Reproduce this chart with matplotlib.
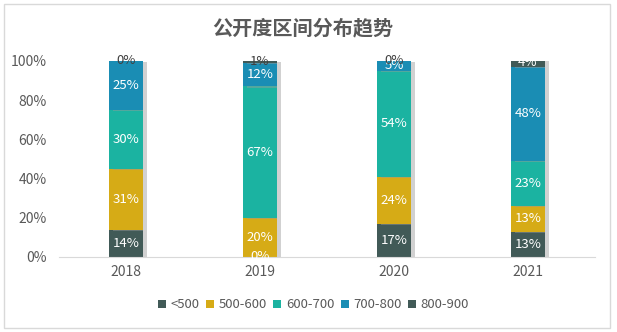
import matplotlib.pyplot as plt
import matplotlib.patheffects as pe
from matplotlib.patches import Rectangle
import numpy as np

plt.rcParams['font.family'] = ['Noto Sans CJK SC', 'DejaVu Sans']

years = ["2018", "2019", "2020", "2021"]
ranges = ["<500", "500-600", "600-700", "700-800", "800-900"]
share = {
    "<500":    [14, 0, 17, 13],
    "500-600": [31, 20, 24, 13],
    "600-700": [30, 67, 54, 23],
    "700-800": [25, 12, 5, 48],
    "800-900": [0, 1, 0, 4],
}
colors = ["#415A57", "#D6AB16", "#1BB3A1", "#1A8DB4", "#415A57"]

fig = plt.figure(figsize=(6.17, 3.32), dpi=100)
ax = fig.add_axes([59 / 617, 75 / 332, 536 / 617, 196 / 332])

# light frame around the whole chart
fig.patches.append(Rectangle((4 / 617, 4 / 332), 606 / 617, 324 / 332,
                             transform=fig.transFigure, fill=False,
                             edgecolor="#D9D9D9", linewidth=1))

x = np.arange(len(years))
width = 0.25
bottom = np.zeros(len(years))
shadow = [pe.SimplePatchShadow(offset=(3, -1), shadow_rgbFace="#999999", alpha=0.45), pe.Normal()]

for name, col in zip(ranges, colors):
    vals = np.array(share[name], dtype=float)
    ax.bar(x, vals, width, bottom=bottom, color=col, label=name,
           path_effects=shadow, zorder=2)
    for i, v in enumerate(vals):
        y = bottom[i] + v / 2
        top_small = v < 2 and bottom[i] + v >= 99
        ax.text(x[i], y, f"{int(v)}%", ha="center", va="center", fontsize=9.5,
                color="#404040" if top_small else "white", zorder=3)
    bottom += vals

ax.set_xlim(-0.5, 3.5)
ax.set_ylim(0, 100)
ax.set_xticks(x, years)
ax.set_yticks(np.arange(0, 101, 20), [f"{v}%" for v in range(0, 101, 20)])
ax.tick_params(length=0, labelsize=10, colors="#595959")
ax.tick_params(axis="y", pad=9)
ax.tick_params(axis="x", pad=6)
for s in ["top", "right", "left"]:
    ax.spines[s].set_visible(False)
ax.spines["bottom"].set_color("#D9D9D9")

fig.text(0.49, 0.915, "公开度区间分布趋势", ha="center", va="center",
         fontsize=14.5, fontweight="bold", color="#595959")

handles, labels = ax.get_legend_handles_labels()
leg = fig.legend(handles, labels, loc="center", bbox_to_anchor=(0.508, 27 / 332),
                 ncol=5, frameon=False, fontsize=9.5, handlelength=0.6,
                 handleheight=0.6, handletextpad=0.35, columnspacing=0.5)
for t in leg.get_texts():
    t.set_color("#595959")
for h in leg.legend_handles:
    h.set_path_effects([])

fig.savefig("out.png", dpi=100)
